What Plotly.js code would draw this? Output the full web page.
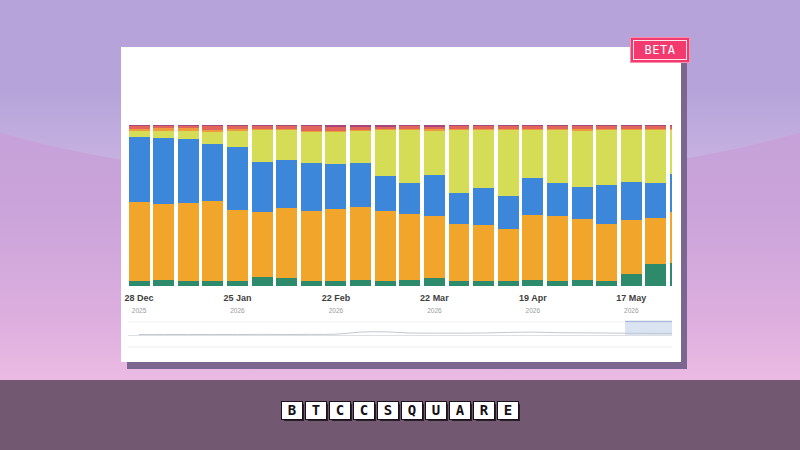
<!DOCTYPE html>
<html>
<head>
<meta charset="utf-8">
<script src="https://cdn.plot.ly/plotly-3.0.1.min.js"></script>
<style>
  html, body { margin: 0; padding: 0; width: 800px; height: 450px; overflow: hidden; }
  body { position: relative; background: linear-gradient(to bottom, #c29fd8 0%, #c9a3da 45%, #dcaede 70%, #ebbae3 84%); font-family: "Liberation Sans", Arial, sans-serif; }
  #dome { position: absolute; left: -200px; top: -206px; width: 1200px; height: 388px; border-radius: 50%;
          background: linear-gradient(to bottom, #b4a2d9 0%, #b5a3d9 76%, #c4afdf 92%, #cbb5e1 100%); }
  #band { position: absolute; left: 0; top: 380px; width: 800px; height: 70px; background: #735872; }
  #card { position: absolute; left: 121px; top: 47px; width: 560px; height: 315px; background: #ffffff;
          box-shadow: 6px 7px 0 #7b6690; }
  #badge { position: absolute; left: 630px; top: 37px; width: 60px; height: 26px; box-sizing: border-box;
           background: #f23a6f; border: 1px solid #f78fab; }
  #badge span { position: absolute; left: 2px; top: 2px; right: 2px; bottom: 2px; border: 1px solid #ffe3ea;
                color: #ffffff; font-family: "DejaVu Sans Mono", monospace; font-size: 12px; line-height: 18px;
                text-align: center; letter-spacing: 0.5px; }
  #clip { position: absolute; left: 121px; top: 0; width: 552px; height: 450px; overflow: hidden; }
  #chart { position: absolute; left: -121px; top: 0; width: 800px; height: 450px; }
  #logo { position: absolute; left: 0; top: 402px; width: 800px; text-align: center; font-size: 0; }
  #logo span { display: inline-block; width: 20px; height: 17px; margin: 0 2px; background: #ffffff; color: #151015;
               font-family: "DejaVu Sans Mono", monospace; font-weight: bold; font-size: 14px; line-height: 17px; text-align: center;
               box-shadow: 2px 2px 0 #2a1d2a; outline: 1px solid #1a121a; }
</style>
</head>
<body>
<div id="dome"></div>
<div id="band"></div>
<div id="card"></div>
<div id="clip"><div id="chart"></div></div>
<div id="badge"><span>BETA</span></div>
<div id="logo"><span>B</span><span>T</span><span>C</span><span>C</span><span>S</span><span>Q</span><span>U</span><span>A</span><span>R</span><span>E</span></div>
<script>
// Weekly buckets (week starting date)
const weeks = ['2025-12-28','2026-01-04','2026-01-11','2026-01-18','2026-01-25','2026-02-01','2026-02-08',
               '2026-02-15','2026-02-22','2026-03-01','2026-03-08','2026-03-15','2026-03-22','2026-03-29',
               '2026-04-05','2026-04-12','2026-04-19','2026-04-26','2026-05-03','2026-05-10','2026-05-17',
               '2026-05-24','2026-05-31'];

// Share of each segment per week (%), bottom to top
const shareGreen  = [3.3,3.7,3.3,3.1,3.3,5.8,4.8,3.3,3.1,3.5,3.3,3.7,4.8,3.1,3.1,3.1,3.7,3.3,3.5,2.9,7.3,13.7,14.3];
const shareOrange = [49.1,47.2,48.4,49.7,43.9,40.4,43.5,43.5,44.5,45.7,43.5,40.8,38.7,35.2,34.8,32.3,40.4,40.2,38.1,35.4,33.7,28.8,31.7];
const shareBlue   = [40.4,40.8,39.4,35.2,39.3,30.7,29.8,29.6,28.1,27.0,21.7,19.3,25.3,19.6,23.0,20.7,23.2,20.7,19.7,24.4,23.8,21.4,23.4];
const shareYellow = [3.6,4.7,5.3,7.8,9.7,19.9,18.7,19.0,19.9,20.0,28.5,33.2,27.6,38.9,36.1,40.7,29.3,32.6,35.1,33.9,31.8,32.7,27.2];
const shareAmber  = [1.4,1.6,1.6,1.4,1.2,1.0,1.0,0.8,0.8,1.0,0.8,0.8,1.0,0.8,0.8,0.8,1.0,1.0,1.0,1.0,1.0,1.0,1.0];
const shareRed    = [1.6,1.4,1.4,2.0,1.8,1.4,1.4,3.0,2.6,1.8,1.2,1.4,1.6,1.6,1.4,1.6,1.6,1.4,1.8,1.6,1.6,1.6,1.6];
const sharePurple = [0.6,0.6,0.6,0.8,0.8,0.8,0.8,0.8,1.0,1.0,1.0,0.8,1.0,0.8,0.8,0.8,0.8,0.8,0.8,0.8,0.8,0.8,0.8];

// Overview strip (navigator) series
const navValues = [1.0,1.0,1.0,1.0,1.0,1.1,1.0,1.1,1.2,2.6,2.8,2.0,1.9,1.9,2.0,2.4,2.6,2.2,2.1,2.0,1.8,1.7,1.7];
const navWindow = ['2026-05-15T06:00:00', '2026-05-28T14:00:00'];

// Axis labels
const tickDates = ['2025-12-28','2026-01-25','2026-02-22','2026-03-22','2026-04-19','2026-05-17'];
const tickDay   = ['28 Dec','25 Jan','22 Feb','22 Mar','19 Apr','17 May'];
const tickYear  = ['2025','2026','2026','2026','2026','2026'];

const xRange = ['2025-12-24T20:40:00', '2026-05-28T14:00:00'];

const segments = [
  { y: shareGreen,  color: '#2d8a6b' },
  { y: shareOrange, color: '#f1a52a' },
  { y: shareBlue,   color: '#3c87da' },
  { y: shareYellow, color: '#d5dd57' },
  { y: shareAmber,  color: '#ef9a3e' },
  { y: shareRed,    color: '#e0655b' },
  { y: sharePurple, color: '#a8457c' }
];

const traces = segments.map(s => ({
  type: 'bar', x: weeks, y: s.y, marker: { color: s.color, line: { width: 0 } },
  hoverinfo: 'skip', showlegend: false
}));

traces.push({
  type: 'scatter', mode: 'lines', x: weeks, y: navValues, xaxis: 'x2', yaxis: 'y2',
  line: { color: '#c3c8d0', width: 1, shape: 'spline' }, hoverinfo: 'skip', showlegend: false
});

const ticktext = tickDay.map((d, i) =>
  '<b>' + d + '</b><br><span style="font-size:6.5px;color:#9a9a9a">' + tickYear[i] + '</span>');

const layout = {
  width: 800, height: 450,
  margin: { l: 128, r: 128, t: 0, b: 0 },
  paper_bgcolor: 'rgba(0,0,0,0)', plot_bgcolor: 'rgba(0,0,0,0)',
  barmode: 'stack', barnorm: 'percent', bargap: 0.15,
  xaxis: {
    type: 'date', range: xRange, tickmode: 'array', tickvals: tickDates, ticktext: ticktext,
    showgrid: false, zeroline: false, showline: false, ticks: '',
    tickfont: { family: 'Liberation Sans, Arial, sans-serif', size: 9, color: '#3e3e3e' },
    ticklabelstandoff: 5
  },
  yaxis: { domain: [0.3644, 0.7222], range: [0, 100], visible: false, fixedrange: true },
  xaxis2: { type: 'date', range: xRange, anchor: 'y2', visible: false },
  yaxis2: { domain: [0.2533, 0.2867], range: [0, 10], anchor: 'x2', visible: false },
  shapes: [
    { type: 'rect', xref: 'x2', yref: 'paper', x0: navWindow[0], x1: navWindow[1], y0: 0.2533, y1: 0.2867,
      fillcolor: 'rgba(206,218,238,0.75)', line: { width: 0 }, layer: 'below' },
    { type: 'line', xref: 'x2', yref: 'paper', x0: navWindow[0], x1: navWindow[1], y0: 0.2856, y1: 0.2856,
      line: { color: '#a9b9d6', width: 1.5 } },
    { type: 'line', xref: 'paper', yref: 'paper', x0: 0, x1: 1, y0: 0.2844, y1: 0.2844,
      line: { color: '#f0f0f2', width: 1 }, layer: 'below' },
    { type: 'line', xref: 'paper', yref: 'paper', x0: 0, x1: 1, y0: 0.2544, y1: 0.2544,
      line: { color: '#dcdfe4', width: 1 } },
    { type: 'line', xref: 'paper', yref: 'paper', x0: 0, x1: 1, y0: 0.2289, y1: 0.2289,
      line: { color: '#ededef', width: 1 }, layer: 'below' }
  ]
};

Plotly.newPlot('chart', traces, layout, { staticPlot: true, displayModeBar: false });
</script>
</body>
</html>
